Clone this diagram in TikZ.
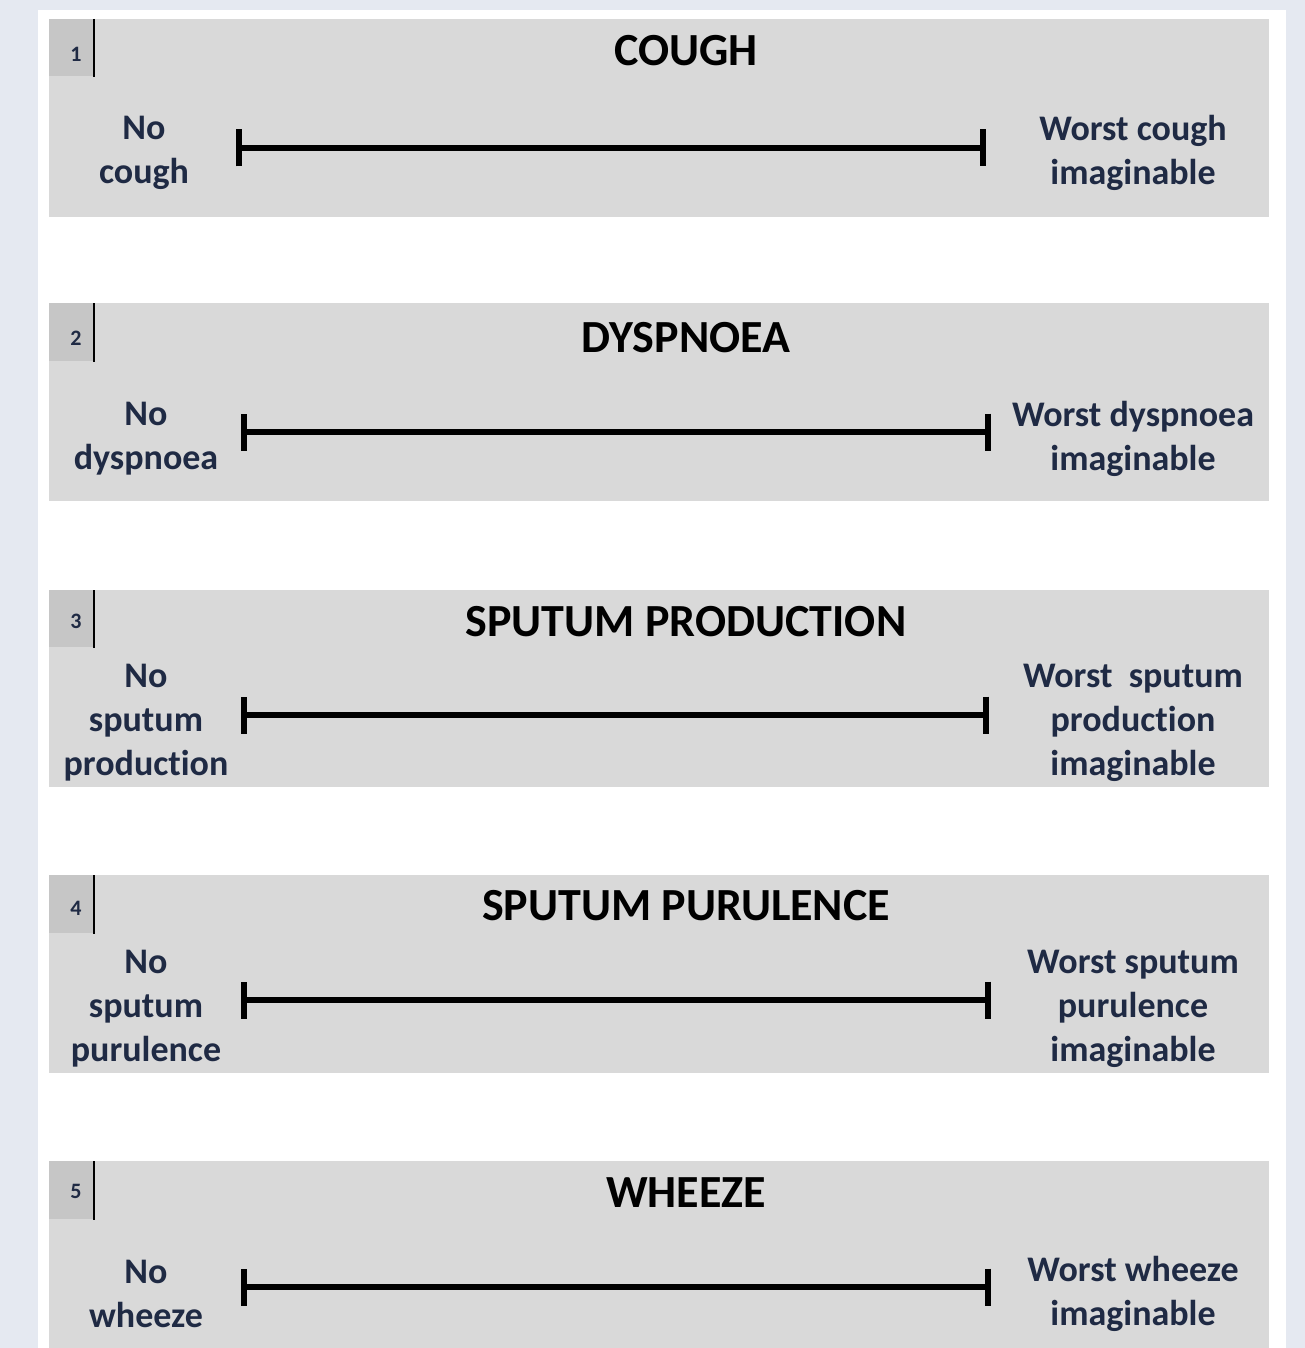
\documentclass[tikz,border=0pt]{standalone}
\usepackage{fontspec}
\setmainfont{Carlito}[Ligatures=NoCommon]
\usetikzlibrary{arrows.meta}

\definecolor{pagebg}{HTML}{E5E9F1}
\definecolor{boxgray}{HTML}{D9D9D9}
\definecolor{numgray}{HTML}{C6C6C6}
\definecolor{labelink}{HTML}{1F2A44}

\tikzset{
  itemtitle/.style={font=\fontsize{46}{52}\selectfont\bfseries, text=black},
  endlabel/.style={align=center, font=\fontsize{36}{44}\selectfont\bfseries, text=labelink},
  itemnum/.style={font=\fontsize{22}{24}\selectfont\bfseries, text=labelink},
  vasline/.style={line width=6pt, {Bar[width=37pt,line width=6pt]}-{Bar[width=37pt,line width=6pt]}},
}

\begin{document}
\begin{tikzpicture}[x=1pt, y=-1pt]
  % Page
  \useasboundingbox (0,0) rectangle (1305,1348);
  \fill[pagebg] (0,0) rectangle (1305,1348);
  \fill[white] (38,10) rectangle (1286,1348);

  % Boxes
  \fill[boxgray] (49,19) rectangle (1269,217);
  \fill[boxgray] (49,303) rectangle (1269,501);
  \fill[boxgray] (49,590) rectangle (1269,787);
  \fill[boxgray] (49,875) rectangle (1269,1073);
  \fill[boxgray] (49,1161) rectangle (1269,1348);

  % Number cells
  \fill[numgray] (49,19) rectangle (93,76);
  \fill[numgray] (49,303) rectangle (93,361);
  \fill[numgray] (49,590) rectangle (93,647);
  \fill[numgray] (49,875) rectangle (93,933);
  \fill[numgray] (49,1161) rectangle (93,1219);
  \draw[line width=2pt] (94,19) -- (94,77);
  \draw[line width=2pt] (94,303) -- (94,362);
  \draw[line width=2pt] (94,590) -- (94,648);
  \draw[line width=2pt] (94,875) -- (94,934);
  \draw[line width=2pt] (94,1161) -- (94,1220);

  % Coordinates
  \coordinate (L1a) at (236,148);
  \coordinate (L1b) at (986,148);
  \coordinate (L2a) at (241,432);
  \coordinate (L2b) at (991,432);
  \coordinate (L3a) at (241,715);
  \coordinate (L3b) at (989,715);
  \coordinate (L4a) at (241,1000);
  \coordinate (L4b) at (991,1000);
  \coordinate (L5a) at (241,1287);
  \coordinate (L5b) at (991,1287);

  % Labels
  \node[itemnum] (n1) at (76,54) {1};
  \node[itemnum] (n2) at (76,338) {2};
  \node[itemnum] (n3) at (76,621) {3};
  \node[itemnum] (n4) at (76,908) {4};
  \node[itemnum] (n5) at (76,1191) {5};

  \node[itemtitle] (t1) at (686,51) {COUGH};
  \node[itemtitle] (t2) at (686,338) {DYSPNOEA};
  \node[itemtitle] (t3) at (686,622) {SPUTUM PRODUCTION};
  \node[itemtitle] (t4) at (686,906) {SPUTUM PURULENCE};
  \node[itemtitle] (t5) at (686,1193) {WHEEZE};

  \node[endlabel] (no1) at (144,153) {No\\cough};
  \node[endlabel] (no2) at (146,439) {No\\dyspnoea};
  \node[endlabel] (no3) at (146,723) {No\\sputum\\production};
  \node[endlabel] (no4) at (146,1009) {No\\sputum\\purulence};
  \node[endlabel] (no5) at (146,1294) {No\\wheeze};

  \node[endlabel] (worst1) at (1133,153) {Worst cough\\imaginable};
  \node[endlabel] (worst2) at (1133,439) {Worst dyspnoea\\imaginable};
  \node[endlabel] (worst3) at (1133,723) {Worst\ \ sputum\\production\\imaginable};
  \node[endlabel] (worst4) at (1133,1009) {Worst sputum\\purulence\\imaginable};
  \node[endlabel] (worst5) at (1133,1294) {Worst wheeze\\imaginable};

  % Drawing
  \draw[vasline] (L1a) -- (L1b);
  \draw[vasline] (L2a) -- (L2b);
  \draw[vasline] (L3a) -- (L3b);
  \draw[vasline] (L4a) -- (L4b);
  \draw[vasline] (L5a) -- (L5b);
\end{tikzpicture}
\end{document}
